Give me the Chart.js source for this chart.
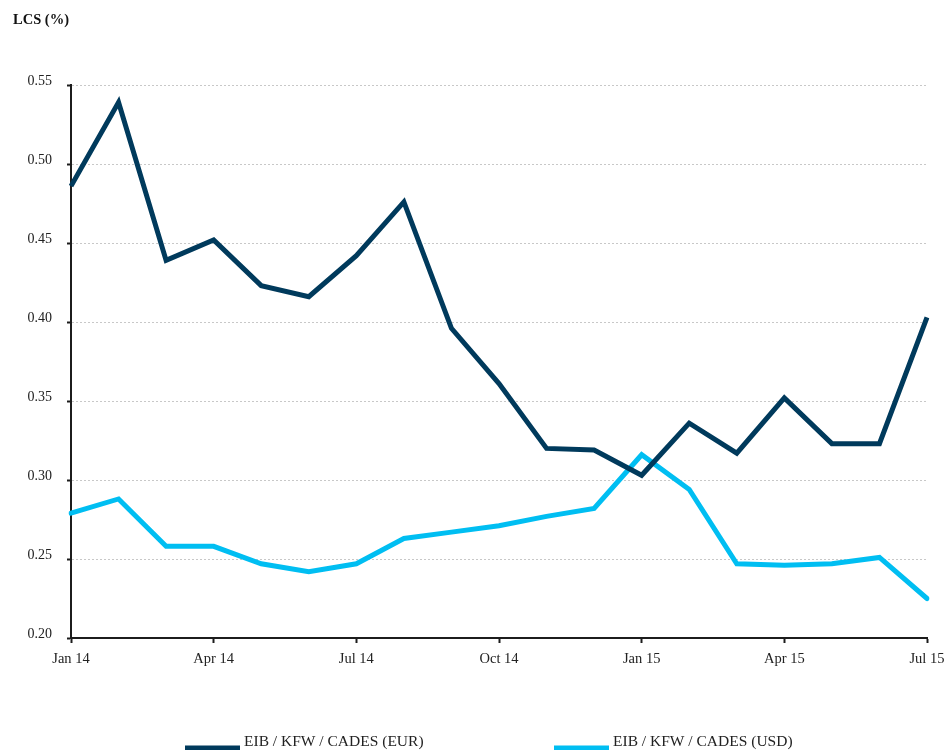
<!DOCTYPE html>
<html>
<head>
<meta charset="utf-8">
<script src="https://cdn.jsdelivr.net/npm/chart.js@4/dist/chart.umd.min.js"></script>
<style>
  html, body { margin: 0; padding: 0; background: #ffffff; }
  #wrap { width: 948px; height: 750px; position: relative; }
</style>
</head>
<body>
<div id="wrap"><canvas id="c" width="948" height="750"></canvas></div>
<script>
const categories = ['Jan 14','Feb 14','Mar 14','Apr 14','May 14','Jun 14','Jul 14','Aug 14','Sep 14','Oct 14','Nov 14','Dec 14','Jan 15','Feb 15','Mar 15','Apr 15','May 15','Jun 15','Jul 15'];
const tickLabels = ['Jan 14','Apr 14','Jul 14','Oct 14','Jan 15','Apr 15','Jul 15'];
const eurValues = [0.486,0.539,0.439,0.452,0.423,0.416,0.442,0.476,0.396,0.361,0.320,0.319,0.303,0.336,0.317,0.352,0.323,0.323,0.403];
const usdValues = [0.279,0.288,0.258,0.258,0.247,0.242,0.247,0.263,0.267,0.271,0.277,0.282,0.316,0.294,0.247,0.246,0.247,0.251,0.225];
const seriesNames = ['EIB / KFW / CADES (EUR)','EIB / KFW / CADES (USD)'];
const yTitle = 'LCS (%)';

const DARK = '#003A5C';
const CYAN = '#00BEF2';
const AXIS = '#1c1c1c';
const FONT = "'Liberation Serif', 'Times New Roman', serif";

const overlay = {
  id: 'overlay',
  afterDraw(chart) {
    const ctx = chart.ctx;
    ctx.save();
    ctx.fillStyle = '#111';
    ctx.font = "bold 14.5px " + FONT;
    ctx.textBaseline = 'alphabetic';
    ctx.textAlign = 'left';
    ctx.fillText(yTitle, 13, 24);
    const items = [
      {x: 185, color: DARK, text: seriesNames[0]},
      {x: 554, color: CYAN, text: seriesNames[1]}
    ];
    ctx.font = "15.5px " + FONT;
    items.forEach(it => {
      ctx.fillStyle = it.color;
      ctx.fillRect(it.x, 745.5, 55, 6);
      ctx.fillStyle = '#222';
      ctx.fillText(it.text, it.x + 59, 746);
    });
    ctx.restore();
  }
};

new Chart(document.getElementById('c'), {
  type: 'line',
  data: {
    labels: categories,
    datasets: [
      { label: seriesNames[0], data: eurValues, borderColor: DARK, backgroundColor: DARK, borderWidth: 5, pointRadius: 0, tension: 0, borderJoinStyle: 'miter', fill: false },
      { label: seriesNames[1], data: usdValues, borderColor: CYAN, backgroundColor: CYAN, borderWidth: 5, pointRadius: 0, tension: 0, borderJoinStyle: 'miter', borderCapStyle: 'round', fill: false }
    ]
  },
  options: {
    responsive: false,
    animation: false,
    devicePixelRatio: 1,
    layout: { padding: { top: 85, right: 21, bottom: 72, left: 0 } },
    plugins: { legend: { display: false }, title: { display: false }, tooltip: { enabled: false } },
    scales: {
      x: {
        type: 'category',
        offset: false,
        border: { display: true, color: AXIS, width: 2 },
        grid: {
          drawOnChartArea: false,
          drawTicks: true,
          tickLength: 5,
          tickWidth: 2,
          tickColor: (c) => (tickLabels.includes(categories[c.index]) ? AXIS : 'rgba(0,0,0,0)')
        },
        ticks: {
          autoSkip: false,
          maxRotation: 0,
          padding: 7,
          color: '#222',
          font: { family: FONT, size: 14.5 },
          callback: function(v, i) { const l = categories[i]; return tickLabels.includes(l) ? l : ''; }
        },
        afterFit: (s) => { s.height = 40; s.paddingLeft = 0; s.paddingRight = 0; }
      },
      y: {
        min: 0.20,
        max: 0.55,
        border: { display: true, color: AXIS, width: 2, dash: [2, 2] },
        grid: {
          color: '#c8c8c8',
          lineWidth: 1,
          drawTicks: true,
          tickLength: 4,
          tickColor: AXIS,
          tickWidth: 2
        },
        ticks: {
          stepSize: 0.05,
          padding: 15,
          labelOffset: -4,
          color: '#222',
          font: { family: FONT, size: 14 },
          callback: (v) => v.toFixed(2)
        },
        afterFit: (s) => { s.width = 71; }
      }
    }
  },
  plugins: [overlay]
});
</script>
</body>
</html>
